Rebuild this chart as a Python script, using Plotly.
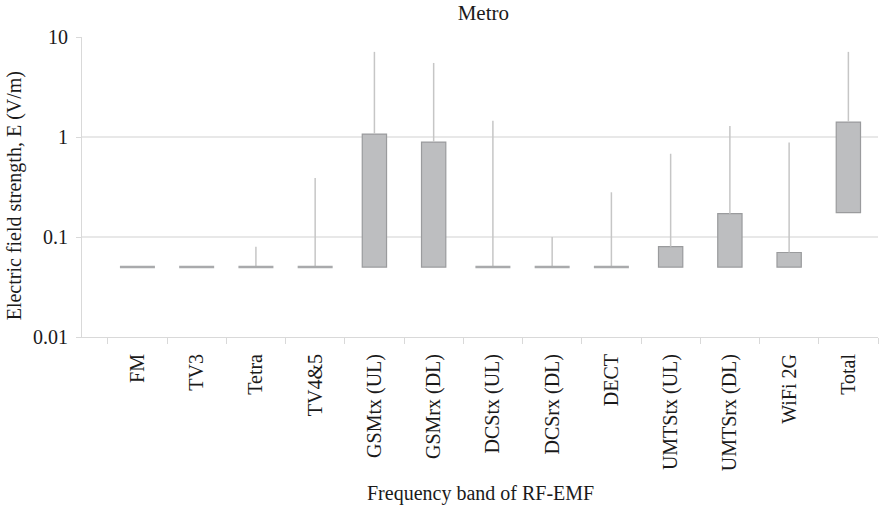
import plotly.graph_objects as go

categories = ["FM", "TV3", "Tetra", "TV4&5", "GSMtx (UL)", "GSMrx (DL)", "DCStx (UL)",
              "DCSrx (DL)", "DECT", "UMTStx (UL)", "UMTSrx (DL)", "WiFi 2G", "Total"]
q1 = [0.05, 0.05, 0.05, 0.05, 0.05, 0.05, 0.05, 0.05, 0.05, 0.05, 0.05, 0.05, 0.175]
q3 = [0.05, 0.05, 0.05, 0.05, 1.07, 0.89, 0.05, 0.05, 0.05, 0.08, 0.171, 0.07, 1.41]
vmax = [0.05, 0.05, 0.08, 0.39, 7.1, 5.5, 1.45, 0.10, 0.28, 0.68, 1.29, 0.88, 7.1]

FONT = "Liberation Serif, DejaVu Serif, serif"
TXT = "#1a1a1a"

heights = [b - a for a, b in zip(q1, q3)]
upper = [m - t for m, t in zip(vmax, q3)]

fig = go.Figure()
fig.add_trace(go.Bar(
    x=categories, y=heights, base=q1, width=0.41,
    marker=dict(color="#bdbec0", line=dict(color="#9a9b9d", width=1.2)),
    error_y=dict(type="data", symmetric=False, array=upper,
                 arrayminus=[0] * len(upper), width=0,
                 color="#c6c6c6", thickness=1.5),
    showlegend=False, hoverinfo="skip",
))
flat_x = [c for c, h in zip(categories, heights) if h == 0]
flat_y = [a for a, h in zip(q1, heights) if h == 0]
fig.add_trace(go.Scatter(
    x=flat_x, y=flat_y, mode="markers",
    marker=dict(symbol="line-ew", size=25, line=dict(color="#a9aaac", width=2.5)),
    showlegend=False, hoverinfo="skip",
))

fig.update_layout(
    width=882, height=512,
    margin=dict(l=82, r=4, t=37, b=175),
    paper_bgcolor="white", plot_bgcolor="white",
    font=dict(family=FONT, size=20, color=TXT),
    title=dict(text="Metro", x=0.548, xanchor="center", y=0.976, yanchor="middle",
               font=dict(family=FONT, size=21, color=TXT)),
    bargap=0.59,
    annotations=[
        dict(text="Frequency band of RF-EMF", xref="paper", yref="paper",
             x=0.5, y=-0.52, xanchor="center", yanchor="middle", showarrow=False,
             font=dict(family=FONT, size=20, color=TXT)),
        dict(text="Electric field strength, E (V/m)", xref="paper", yref="paper",
             x=-0.085, y=0.47, xanchor="center", yanchor="middle", showarrow=False,
             textangle=-90, font=dict(family=FONT, size=20, color=TXT)),
    ],
)
fig.update_xaxes(
    type="category", tickangle=-90, tickson="boundaries", automargin=False,
    ticks="outside", ticklen=6, tickcolor="#d9d9d9",
    showline=True, linecolor="#d9d9d9", linewidth=1,
    showgrid=False, tickfont=dict(family=FONT, size=20, color=TXT),
    ticklabelstandoff=8,
)
fig.update_yaxes(
    type="log", range=[-2, 1], automargin=False,
    tickvals=[0.01, 0.1, 1, 10], ticktext=["0.01", "0.1", "1", "10"],
    showgrid=True, gridcolor="#e8e8e8", gridwidth=1.5,
    showline=True, linecolor="#d9d9d9", linewidth=1,
    ticks="outside", ticklen=5, tickcolor="#d9d9d9",
    zeroline=False, tickfont=dict(family=FONT, size=20, color=TXT),
    ticklabelstandoff=4,
)

fig.write_html("out.html", config={"displayModeBar": False},
               post_script="document.body.style.margin='0';document.body.style.overflow='hidden';")
